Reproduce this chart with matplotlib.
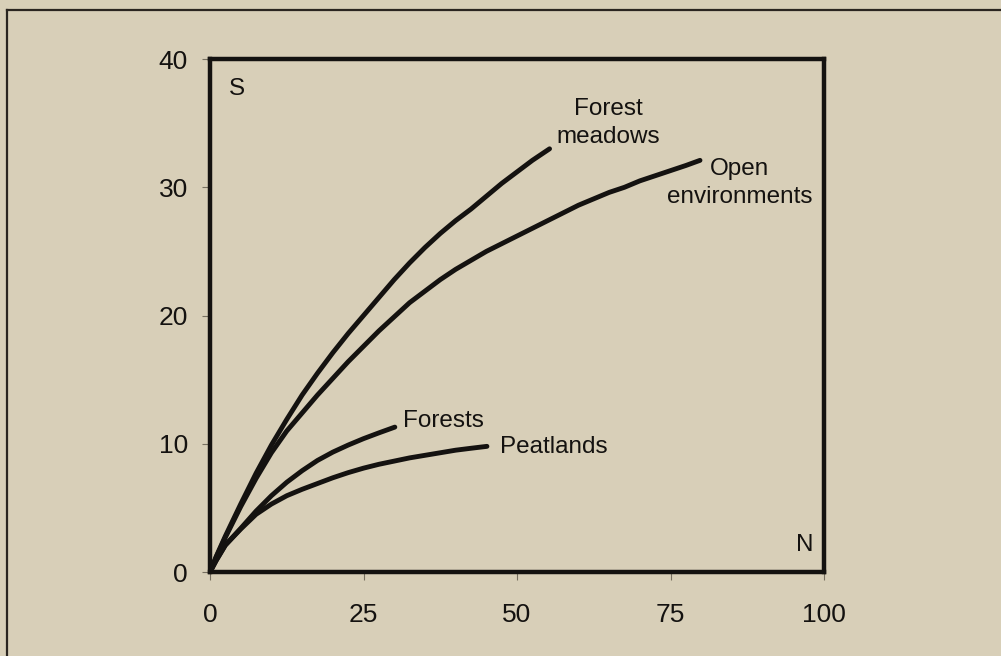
import matplotlib.pyplot as plt
from matplotlib.lines import Line2D

# Rarefaction curves, species S vs individuals N
meadows_n = [0, 1, 2.5, 5, 7.5, 10, 12.5, 15, 17.5, 20, 22.5, 25, 27.5, 30,
             32.5, 35, 37.5, 40, 42.5, 45, 47.5, 50, 52.5, 55.3]
meadows_s = [0, 1.2, 2.8, 5.3, 7.7, 9.9, 11.9, 13.8, 15.5, 17.1, 18.6, 20.0, 21.4, 22.8,
             24.1, 25.3, 26.4, 27.4, 28.3, 29.3, 30.3, 31.2, 32.1, 33.0]

open_n = [0, 1, 2.5, 5, 7.5, 10, 12.5, 15, 17.5, 20, 22.5, 25, 27.5, 30, 32.5, 35,
          37.5, 40, 42.5, 45, 47.5, 50, 52.5, 55, 57.5, 60, 62.5, 65, 67.5, 70,
          72.5, 75, 77.5, 79.8]
open_s = [0, 1.15, 2.7, 5.1, 7.3, 9.3, 11.0, 12.4, 13.8, 15.1, 16.4, 17.6, 18.8, 19.9, 21.0, 21.9,
          22.8, 23.6, 24.3, 25.0, 25.6, 26.2, 26.8, 27.4, 28.0, 28.6, 29.1, 29.6, 30.0, 30.5,
          30.9, 31.3, 31.7, 32.1]

forests_n = [0, 1, 2.5, 5, 7.5, 10, 12.5, 15, 17.5, 20, 22.5, 25, 27.5, 30.1]
forests_s = [0, 0.9, 2.1, 3.4, 4.75, 5.95, 7.0, 7.9, 8.7, 9.35, 9.9, 10.4, 10.85, 11.3]

peat_n = [0, 1, 2.5, 5, 7.5, 10, 12.5, 15, 17.5, 20, 22.5, 25, 27.5, 30,
          32.5, 35, 37.5, 40, 42.5, 45.1]
peat_s = [0, 0.9, 2.1, 3.35, 4.5, 5.3, 5.95, 6.45, 6.9, 7.35, 7.75, 8.1, 8.4, 8.65,
          8.9, 9.1, 9.3, 9.5, 9.65, 9.8]

x_ticks = [0, 25, 50, 75, 100]
y_ticks = [0, 10, 20, 30, 40]

bg = '#d8cfb8'
ink = '#141210'

plt.rcParams['font.family'] = ['Liberation Sans', 'DejaVu Sans']

fig = plt.figure(figsize=(10.01, 6.56), dpi=100, facecolor=bg)
ax = fig.add_axes([0.2098, 0.128, 0.6134, 0.782])
ax.set_facecolor(bg)

line_kw = dict(color=ink, lw=3.5, solid_capstyle='round', solid_joinstyle='round')
ax.plot(meadows_n, meadows_s, **line_kw)
ax.plot(open_n, open_s, **line_kw)
ax.plot(forests_n, forests_s, **line_kw)
ax.plot(peat_n, peat_s, **line_kw)

txt_kw = dict(fontsize=17.5, color=ink, linespacing=1.35)
ax.text(64.8, 35.0, 'Forest\nmeadows', ha='center', va='center', **txt_kw)
ax.text(86.2, 30.3, 'Open\nenvironments', ha='center', va='center', **txt_kw)
ax.text(31.4, 11.8, 'Forests', ha='left', va='center', **txt_kw)
ax.text(47.2, 9.74, 'Peatlands', ha='left', va='center', **txt_kw)
ax.text(4.4, 37.7, 'S', ha='center', va='center', **txt_kw)
ax.text(96.8, 2.1, 'N', ha='center', va='center', **txt_kw)

ax.set_xlim(0, 100)
ax.set_ylim(0, 40)
ax.set_xticks(x_ticks)
ax.set_yticks(y_ticks)
ax.tick_params(axis='both', direction='out', length=6, width=0.8, color='#777060',
               labelsize=19, labelcolor=ink)
ax.tick_params(axis='y', pad=10)
ax.tick_params(axis='x', pad=16)
for sp in ax.spines.values():
    sp.set_linewidth(3.2)
    sp.set_color(ink)

# outer frame of the scanned page
fig.add_artist(Line2D([0.007, 1.0], [0.985, 0.985], transform=fig.transFigure,
                      color='#2a2520', lw=1.6))
fig.add_artist(Line2D([0.007, 0.007], [0.0, 0.985], transform=fig.transFigure,
                      color='#2a2520', lw=1.6))

fig.savefig('out.png', dpi=100, facecolor=bg)
